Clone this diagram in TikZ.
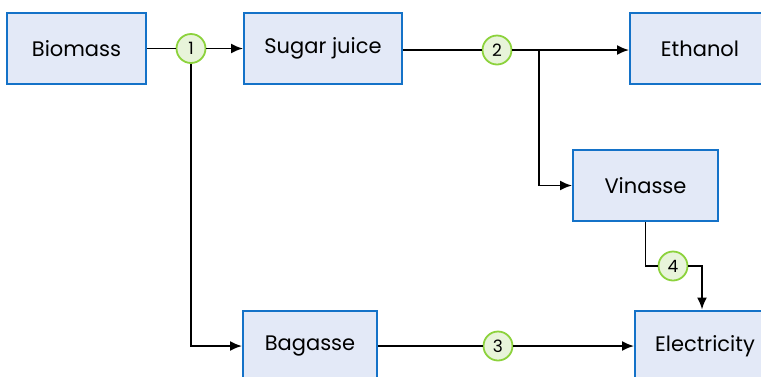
\documentclass[tikz,border=0pt]{standalone}
\usepackage{fontspec}
\setmainfont{Poppins}
\usetikzlibrary{arrows.meta}

\definecolor{boxfill}{RGB}{227,233,247}
\definecolor{boxline}{RGB}{20,114,200}
\definecolor{dotfill}{RGB}{232,244,218}
\definecolor{dotline}{RGB}{140,210,60}

\tikzset{
  stage/.style={draw=boxline, fill=boxfill, line width=2pt, minimum height=71pt, font=\fontsize{21}{24}\selectfont},
  mark dot/.style={circle, draw=dotline, fill=dotfill, line width=1.8pt, minimum size=29pt, inner sep=0pt, font=\fontsize{17}{19}\selectfont},
  flow/.style={line width=1.8pt},
  flowto/.style={flow, -{Latex[length=12pt,width=10pt]}}
}

\begin{document}
\begin{tikzpicture}[x=1pt, y=-1pt]

\useasboundingbox (0,0) rectangle (761,376);

\node[stage, minimum width=139pt] (bio) at (76.5,48.5) {Biomass};
\node[stage, minimum width=158pt] (sug) at (323,48.5) {Sugar juice};
\node[stage, minimum width=140pt] (eth) at (700,48.5) {Ethanol};
\node[stage, minimum width=145pt] (vin) at (645.5,185.5) {Vinasse};
\node[stage, minimum width=134pt] (bag) at (310,346) {Bagasse};
\node[stage, minimum width=140pt] (ele) at (705,346) {Electricity};

\node[mark dot] (c1) at (191,48.5) {1};
\node[mark dot] (c2) at (497,50) {2};
\node[mark dot] (c3) at (498,346) {3};
\node[mark dot] (c4) at (673,266) {4};

\coordinate (br) at (539,50);
\coordinate (drop) at (702,266);

% main line
\draw[flow] (bio) -- (c1);
\draw[flowto] (c1) -- (sug);
\draw[flow] (sug.east |- c2) -- (c2);
\draw[flowto] (c2) -- (eth.west |- c2);

% branches
\draw[flowto] (c1) |- (bag);
\draw[flowto] (br) |- (vin);
\draw[flow] (bag) -- (c3);
\draw[flowto] (c3) -- (ele);
\draw[flow] (vin.south) |- (c4);
\draw[flowto] (c4) -| (drop |- ele.north);

\end{tikzpicture}
\end{document}
